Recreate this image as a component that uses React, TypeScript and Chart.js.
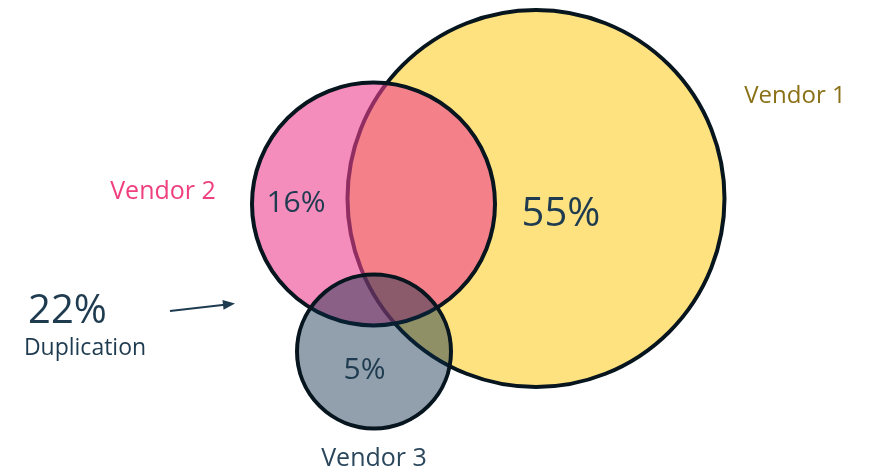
import { useEffect, useRef } from "react";
import { Chart, registerables } from "chart.js";

Chart.register(...registerables);

// ---- data ----
const CATEGORIES = ["Vendor 1", "Vendor 2", "Vendor 3"];
const CENTER_X = [53.6, 37.35, 37.4];
const CENTER_Y = [27.65, 27.1, 12.35];
const RADIUS = [18.85, 12.15, 7.7];
const SHARE_LABELS = ["55%", "16%", "5%"];
const DUPLICATION_VALUE = "22%";
const DUPLICATION_LABEL = "Duplication";

// ---- styling / annotation layout ----
const FILLS = ["rgb(254,226,128)", "rgba(237,63,143,0.6)", "rgba(10,45,72,0.45)"];
const BORDER = "#07151f";
const FONT = "'Open Sans', 'Noto Sans', sans-serif";
const DARK = "#1f3b50";
const CAT_COLORS = ["#8a7016", "#ef3f7e", "#2b475c"];
const CAT_SIZE = [24, 25, 25];
const CAT_POS = [
  [79.5, 37.2],
  [16.3, 27.6],
  [37.4, 0.9],
];
const SHARE_POS = [
  [56.1, 24.9],
  [29.6, 26.3],
  [36.45, 9.6],
];
const SHARE_SIZE = [40, 30, 30];
const DUP_VALUE_POS = [6.75, 15.2];
const DUP_LABEL_POS = [8.5, 12.0];
const ARROW_FROM = [17.0, 16.4];
const ARROW_TO = [23.5, 17.15];

const labelPlugin = {
  id: "vennLabels",
  afterDatasetsDraw(chart: any) {
    const { ctx, scales } = chart;
    const px = (v: number) => scales.x.getPixelForValue(v);
    const py = (v: number) => scales.y.getPixelForValue(v);
    ctx.save();
    ctx.textAlign = "center";
    ctx.textBaseline = "alphabetic";
    CATEGORIES.forEach((c, i) => {
      ctx.fillStyle = CAT_COLORS[i];
      ctx.font = `${CAT_SIZE[i]}px ${FONT}`;
      ctx.fillText(c, px(CAT_POS[i][0]), py(CAT_POS[i][1]));
    });
    SHARE_LABELS.forEach((s, i) => {
      ctx.fillStyle = DARK;
      ctx.font = `${SHARE_SIZE[i]}px ${FONT}`;
      ctx.fillText(s, px(SHARE_POS[i][0]), py(SHARE_POS[i][1]));
    });
    ctx.fillStyle = DARK;
    ctx.font = `40px ${FONT}`;
    ctx.fillText(DUPLICATION_VALUE, px(DUP_VALUE_POS[0]), py(DUP_VALUE_POS[1]));
    ctx.font = `23px ${FONT}`;
    ctx.fillText(DUPLICATION_LABEL, px(DUP_LABEL_POS[0]), py(DUP_LABEL_POS[1]));

    // arrow
    const x1 = px(ARROW_FROM[0]);
    const y1 = py(ARROW_FROM[1]);
    const x2 = px(ARROW_TO[0]);
    const y2 = py(ARROW_TO[1]);
    const ang = Math.atan2(y2 - y1, x2 - x1);
    const head = 13;
    ctx.strokeStyle = DARK;
    ctx.lineWidth = 2;
    ctx.beginPath();
    ctx.moveTo(x1, y1);
    ctx.lineTo(x2 - Math.cos(ang) * head * 0.8, y2 - Math.sin(ang) * head * 0.8);
    ctx.stroke();
    ctx.beginPath();
    ctx.moveTo(x2, y2);
    ctx.lineTo(x2 - head * Math.cos(ang - 0.38), y2 - head * Math.sin(ang - 0.38));
    ctx.lineTo(x2 - head * Math.cos(ang + 0.38), y2 - head * Math.sin(ang + 0.38));
    ctx.closePath();
    ctx.fill();
    ctx.restore();
  },
};

// bubble radii are in pixels: convert data-unit radii through the x scale
function bubbleData(chart: any) {
  const xs = chart && chart.scales && chart.scales.x;
  return CATEGORIES.map((c, i) => {
    let r = 0;
    if (xs) {
      const v = Math.abs(xs.getPixelForValue(RADIUS[i]) - xs.getPixelForValue(0));
      r = isFinite(v) ? v : 0;
    }
    return { x: CENTER_X[i], y: CENTER_Y[i], r };
  });
}

export default function App() {
  const ref = useRef<HTMLCanvasElement | null>(null);
  useEffect(() => {
    if (!ref.current) return;
    const chart = new Chart(ref.current, {
      type: "bubble",
      data: {
        labels: CATEGORIES,
        datasets: [
          {
            label: "Vendors",
            data: bubbleData(null) as any,
            backgroundColor: FILLS,
            borderColor: BORDER,
            borderWidth: 4,
            hoverBorderWidth: 4,
            clip: false as any,
          } as any,
        ],
      },
      options: {
        animation: false,
        responsive: true,
        maintainAspectRatio: false,
        events: [],
        layout: { padding: 0, autoPadding: false },
        scales: {
          x: { type: "linear", min: 0, max: 87.2, display: false },
          y: { type: "linear", min: 0, max: 47.5, display: false },
        },
        plugins: { legend: { display: false }, tooltip: { enabled: false } },
        onResize: (c: any) => {
          setTimeout(() => {
            c.data.datasets[0].data = bubbleData(c);
            c.update("none");
          }, 0);
        },
      },
      plugins: [labelPlugin],
    });
    chart.data.datasets[0].data = bubbleData(chart) as any;
    chart.update("none");
    return () => chart.destroy();
  }, []);
  return (
    <div style={{ position: "fixed", left: 0, top: 0, width: "100vw", height: "100vh", background: "#fff" }}>
      <canvas ref={ref} />
    </div>
  );
}
